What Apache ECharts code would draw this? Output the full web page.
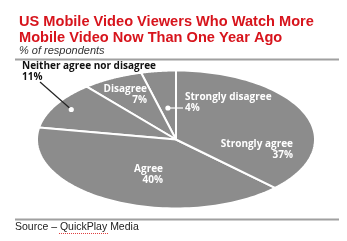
<!DOCTYPE html>
<html><head><meta charset="utf-8">
<script src="https://cdn.jsdelivr.net/npm/echarts@6/dist/echarts.min.js"></script>
<style>html,body{margin:0;padding:0;background:#fff}#c{width:347px;height:241px}</style>
</head><body><div id="c"></div>
<script>
const categories = ['Strongly disagree', 'Disagree', 'Neither agree nor disagree', 'Agree', 'Strongly agree'];
const values = [4, 7, 11, 40, 37];
const valueLabels = ['4%', '7%', '11%', '40%', '37%'];

// layout (pixels) — styling only
const PIE = { cx: 176, cy: 139.5, rx: 139, ry: 69 };
const labelLayout = [
  { x: 185, y: 92, align: 'left', color: '#fff', dot: 0.46, leaderTo: [183, 0] },
  { x: 147, y: 84, align: 'right', color: '#fff' },
  { x: 22, y: 61, align: 'left', color: '#111', dot: 0.87, leaderTo: [40, 82] },
  { x: 163, y: 164, align: 'right', color: '#fff' },
  { x: 293, y: 139, align: 'right', color: '#fff' }
];

const total = values.reduce((a, b) => a + b, 0);
const cum = [0];
values.forEach((v, i) => cum.push(cum[i] + v));
function pt(t, f) {
  return [PIE.cx + f * PIE.rx * Math.sin(t), PIE.cy - f * PIE.ry * Math.cos(t)];
}
function ang(c) { return -2 * Math.PI * c / total; }

const chart = echarts.init(document.getElementById('c'), null, { renderer: 'canvas' });
chart.setOption({
  animation: false,
  title: [
    { text: 'US Mobile Video Viewers Who Watch More\nMobile Video Now Than One Year Ago', left: 14, top: 9,
      textStyle: { color: '#d7141c', fontFamily: 'Liberation Sans', fontWeight: 'bold', fontSize: 14.6, lineHeight: 16 } },
    { text: '% of respondents', left: 14, top: 40,
      textStyle: { color: '#333', fontFamily: 'Liberation Sans', fontStyle: 'italic', fontWeight: 'normal', fontSize: 11 } }
  ],
  graphic: [
    { type: 'line', shape: { x1: 15, y1: 59.5, x2: 339, y2: 59.5 }, style: { stroke: '#a0a0a0', lineWidth: 2 } },
    { type: 'line', shape: { x1: 15, y1: 219.5, x2: 339, y2: 219.5 }, style: { stroke: '#a0a0a0', lineWidth: 2 } },
    { type: 'text', left: 15, top: 221.5, style: { text: 'Source – QuickPlay Media', fill: '#222', font: '10.5px "Liberation Sans"' } },
    { type: 'line', shape: { x1: 59, y1: 233.5, x2: 109, y2: 233.5 }, style: { stroke: '#e04040', lineWidth: 1, lineDash: [1, 1] } }
  ],
  series: [{
    type: 'custom',
    coordinateSystem: 'none',
    data: values,
    renderItem: function (params, api) {
      const i = params.dataIndex;
      const t0 = ang(cum[i]), t1 = ang(cum[i + 1]);
      const pts = [[PIE.cx, PIE.cy]];
      const n = 80;
      for (let k = 0; k <= n; k++) pts.push(pt(t0 + (t1 - t0) * k / n, 1));
      const lay = labelLayout[i];
      const children = [
        { type: 'polygon', shape: { points: pts }, style: { fill: '#8c8c8c', stroke: '#fff', lineWidth: 2 } }
      ];
      const tm = (t0 + t1) / 2;
      if (lay.dot) {
        const d = pt(tm, lay.dot);
        const to = [lay.leaderTo[0], lay.leaderTo[1] || d[1]];
        children.push({ type: 'line', z2: 5, shape: { x1: d[0], y1: d[1], x2: to[0], y2: to[1] },
          style: { stroke: lay.color === '#fff' ? '#fff' : '#222', lineWidth: 1.2 } });
        children.push({ type: 'circle', z2: 6, shape: { cx: d[0], cy: d[1], r: 2.6 }, style: { fill: '#fff' } });
      }
      children.push({ type: 'text', z2: 10, x: lay.x, y: lay.y,
        style: { text: categories[i] + '\n' + valueLabels[i], fill: lay.color, align: lay.align, verticalAlign: 'top',
          font: 'bold 10px "Open Sans"', lineHeight: 11 } });
      return { type: 'group', children: children };
    }
  }]
});
</script></body></html>
